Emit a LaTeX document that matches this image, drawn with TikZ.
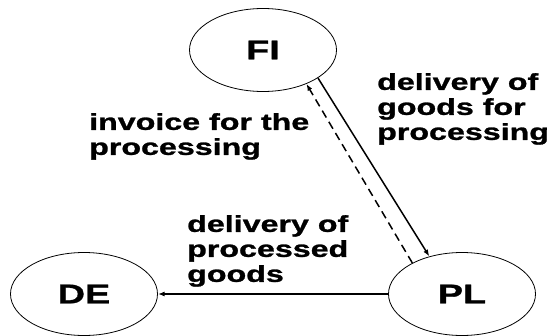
\documentclass[tikz,border=0pt]{standalone}
\usepackage{fontspec}
\setmainfont{Liberation Sans}[FakeStretch=1.4, BoldFeatures={FakeBold=1.2}]
\usetikzlibrary{arrows.meta,shapes.geometric}

\begin{document}
\begin{tikzpicture}[x=1pt, y=1pt,
    land/.style={draw, ellipse, line width=0.8pt, minimum width=147pt, minimum height=83pt, inner sep=0pt, font=\fontsize{27}{30}\selectfont\bfseries},
    lbl/.style={anchor=north west, inner sep=0pt, align=left, font=\fontsize{23}{25}\selectfont\bfseries},
    flow/.style={-{Latex[length=2.4mm, width=1.8mm]}, line width=1.5pt}
  ]
    \useasboundingbox (0,0) rectangle (553,335);

    \node[land] (FI) at (263,285) {FI};
    \node[land] (DE) at (84,41) {DE};
    \node[land] (PL) at (462,41) {PL};

    \node[lbl] (goodsin) at (377,262) {delivery of\\goods for\\processing};
    \node[lbl] (invoice) at (89,222) {invoice for the\\processing};
    \node[lbl] (goodsout) at (187,120) {delivery of\\processed\\goods};

    \draw[flow] (FI.-27) -- (PL.131);
    \draw[flow, dash pattern=on 8pt off 5pt] (PL.148) -- (FI.-38);
    \draw[flow] (PL.west) -- (DE.east);
  \end{tikzpicture}
\end{document}
